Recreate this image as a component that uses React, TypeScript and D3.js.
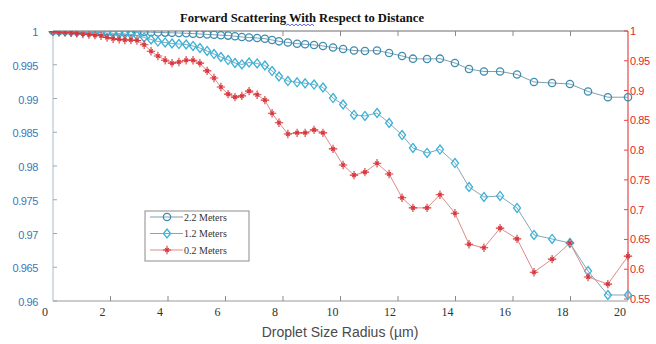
import React from 'react';
import * as d3 from 'd3';

// droplet radius (µm) sample points
const radius = [
  0.0, 0.21, 0.42, 0.63, 0.83, 1.04, 1.25, 1.46, 1.67, 1.88,
  2.09, 2.3, 2.5, 2.71, 2.92, 3.17, 3.41, 3.65, 3.9, 4.14,
  4.38, 4.63, 4.87, 5.11, 5.36, 5.6, 5.84, 6.09, 6.33, 6.57,
  6.82, 7.1, 7.37, 7.62, 7.86, 8.17, 8.49, 8.77, 9.08, 9.39,
  9.74, 10.09, 10.47, 10.85, 11.27, 11.69, 12.14, 12.52, 13.01, 13.46,
  13.98, 14.47, 14.99, 15.55, 16.14, 16.73, 17.36, 17.98, 18.61, 19.3,
  20.0,
];

// 2.2 Meters (left axis)
const meters22 = [
  1.0, 1.0, 1.0, 1.0, 1.0, 1.0, 1.0, 1.0, 0.99997, 0.99996,
  0.99994, 0.99993, 0.99991, 0.9999, 0.99987, 0.99985, 0.99982, 0.99979, 0.99976, 0.99973,
  0.9997, 0.99966, 0.99961, 0.99956, 0.9995, 0.99944, 0.99938, 0.99932, 0.99923, 0.99911,
  0.99904, 0.99896, 0.99886, 0.99867, 0.99847, 0.9983, 0.99812, 0.99803, 0.99793, 0.99778,
  0.99756, 0.99733, 0.99711, 0.99704, 0.99711, 0.99674, 0.9963, 0.9959, 0.99585, 0.9959,
  0.99526, 0.99437, 0.994, 0.994, 0.99356, 0.99244, 0.9923, 0.99215, 0.99104, 0.99019,
  0.99019,
];

// 1.2 Meters (left axis)
const meters12 = [
  1.0, 0.99997, 0.99994, 0.99991, 0.99988, 0.99985, 0.99982, 0.99979, 0.99975, 0.9997,
  0.99966, 0.99961, 0.99956, 0.99948, 0.99933, 0.99904, 0.99874, 0.99844, 0.9983, 0.99815,
  0.99807, 0.998, 0.99778, 0.99748, 0.99704, 0.99659, 0.99615, 0.9957, 0.99526, 0.99504,
  0.99533, 0.99519, 0.99489, 0.99407, 0.99326, 0.99259, 0.9924, 0.99225, 0.99207, 0.99163,
  0.99007, 0.98911, 0.98756, 0.98741, 0.98785, 0.98637, 0.98459, 0.98267, 0.98193, 0.98244,
  0.98044, 0.97689, 0.97541, 0.97556, 0.97378, 0.96978, 0.96919, 0.96859, 0.96444, 0.96089,
  0.96089,
];

// 0.2 Meters (right axis)
const meters02 = [
  0.999, 0.998, 0.998, 0.997, 0.996, 0.995, 0.994, 0.993, 0.992, 0.989,
  0.987, 0.986, 0.985, 0.985, 0.984, 0.977, 0.966, 0.958, 0.951, 0.946,
  0.948, 0.951, 0.951, 0.946, 0.933, 0.921, 0.906, 0.894, 0.889, 0.891,
  0.899, 0.893, 0.884, 0.862, 0.846, 0.827, 0.829, 0.829, 0.834, 0.829,
  0.802, 0.775, 0.758, 0.763, 0.778, 0.76, 0.72, 0.703, 0.703, 0.725,
  0.694, 0.642, 0.636, 0.669, 0.651, 0.595, 0.617, 0.644, 0.587, 0.575,
  0.622,
];

const xTicks = [0, 2, 4, 6, 8, 10, 12, 14, 16, 18, 20];
const leftTicks = [0.96, 0.965, 0.97, 0.975, 0.98, 0.985, 0.99, 0.995, 1];
const rightTicks = [0.55, 0.6, 0.65, 0.7, 0.75, 0.8, 0.85, 0.9, 0.95, 1];
const seriesNames = ['2.2 Meters', '1.2 Meters', '0.2 Meters'];

const W = 656;
const H = 344;
const plot = { left: 53, right: 628, top: 31, bottom: 301 };

// custom wide diamond symbol
const wideDiamond = {
  draw(ctx: any, size: number) {
    const h = Math.sqrt(size) * 0.68;
    const w = h * 0.78;
    ctx.moveTo(0, -h);
    ctx.lineTo(w, 0);
    ctx.lineTo(0, h);
    ctx.lineTo(-w, 0);
    ctx.closePath();
  },
};

// plus with short diagonal spokes, like the reference's red markers
const starPlus = {
  draw(ctx: any, size: number) {
    const r = Math.sqrt(size) * 0.7;
    const d = r * 0.45;
    ctx.moveTo(-r, 0);
    ctx.lineTo(r, 0);
    ctx.moveTo(0, -r);
    ctx.lineTo(0, r);
    ctx.moveTo(-d, -d);
    ctx.lineTo(d, d);
    ctx.moveTo(-d, d);
    ctx.lineTo(d, -d);
  },
};

const fmt = (v: number) => String(+v.toFixed(3));

export default function App() {
  const x = d3.scaleLinear().domain([0, 20]).range([plot.left, plot.right]);
  const yL = d3.scaleLinear().domain([0.96, 1]).range([plot.bottom, plot.top]);
  const yR = d3.scaleLinear().domain([0.55, 1]).range([299, plot.top]);

  const series = [
    {
      name: seriesNames[0], values: meters22, y: yL,
      line: '#7f9fae', stroke: '#3d8db0', sw: 1.3,
      sym: d3.symbol(d3.symbolCircle, 42)(),
    },
    {
      name: seriesNames[1], values: meters12, y: yL,
      line: '#7fa9b8', stroke: '#3cb2d8', sw: 1.3,
      sym: d3.symbol(wideDiamond as any, 44)(),
    },
    {
      name: seriesNames[2], values: meters02, y: yR,
      line: '#e08a8a', stroke: '#d8343a', sw: 1.1,
      sym: d3.symbol(starPlus as any, 36)(),
    },
  ];

  // blue wavy spell-check underline under "With"
  const wave = d3.path();
  wave.moveTo(286, 25.5);
  for (let i = 0; i < 14; i++) wave.lineTo(288 + i * 2, i % 2 === 0 ? 24 : 25.8);

  return (
    <svg
      width={W}
      height={H}
      style={{ position: 'absolute', left: 0, top: 0, background: '#fff' }}
    >
      <defs>
        <clipPath id="plotClip">
          <rect x={0} y={plot.top} width={W} height={H - plot.top} />
        </clipPath>
      </defs>

      {/* title */}
      <text
        x={302}
        y={22}
        textAnchor="middle"
        fontFamily="Liberation Serif, serif"
        fontWeight="bold"
        fontSize={12.5}
        textLength={244}
        lengthAdjust="spacingAndGlyphs"
        fill="#111"
      >
        Forward Scattering With Respect to Distance
      </text>
      <path d={wave.toString()} fill="none" stroke="#3b3bd8" strokeWidth={0.8} />

      {/* frame */}
      <line x1={plot.left} x2={plot.right} y1={plot.top} y2={plot.top} stroke="#b5b5b5" strokeWidth={2} />
      <line x1={plot.left} x2={plot.right} y1={plot.bottom} y2={plot.bottom} stroke="#9a9a9a" strokeWidth={1.2} />
      <line x1={plot.left} x2={plot.left} y1={plot.top} y2={plot.bottom} stroke="#b4c6d4" strokeWidth={1.2} />
      <line x1={plot.right} x2={plot.right} y1={plot.top} y2={299} stroke="#e8454a" strokeWidth={1.2} />

      {/* x ticks */}
      {xTicks.map((t) => (
        <g key={'x' + t}>
          {t > 0 && t < 20 && (
            <>
              <line x1={x(t)} x2={x(t)} y1={plot.bottom} y2={plot.bottom - 5} stroke="#8a8a8a" />
              <line x1={x(t)} x2={x(t)} y1={plot.top} y2={plot.top + 5} stroke="#8a8a8a" />
            </>
          )}
          <text
            x={x(t) - 8}
            y={316}
            textAnchor="middle"
            fontFamily="Liberation Serif, serif"
            fontSize={12}
            fill="#333"
          >
            {t}
          </text>
        </g>
      ))}

      {/* left ticks */}
      {leftTicks.map((t) => (
        <g key={'l' + t}>
          <line x1={plot.left} x2={plot.left + 4} y1={yL(t)} y2={yL(t)} stroke="#9aaab6" />
          <text
            x={38}
            y={yL(t) + 5}
            textAnchor="end"
            fontFamily="Liberation Sans, sans-serif"
            fontSize={11}
            letterSpacing={-0.4}
            fill="#3a78b8"
          >
            {fmt(t)}
          </text>
        </g>
      ))}

      {/* right ticks */}
      {rightTicks.map((t) => (
        <g key={'r' + t}>
          <line x1={plot.right - 4} x2={plot.right} y1={yR(t)} y2={yR(t)} stroke="#e8454a" />
          <text
            x={plot.right + 2}
            y={yR(t) + 4}
            textAnchor="start"
            fontFamily="Liberation Sans, sans-serif"
            fontSize={11}
            letterSpacing={-0.4}
            fill="#e2262e"
          >
            {fmt(t)}
          </text>
        </g>
      ))}

      {/* series */}
      <g clipPath="url(#plotClip)">
        {series.map((s) => {
          const line = d3
            .line<number>()
            .x((_, i) => x(radius[i]))
            .y((v) => s.y(v));
          return (
            <g key={s.name}>
              <path d={line(s.values) || ''} fill="none" stroke={s.line} strokeWidth={1} />
              {s.values.map((v, i) => (
                <path
                  key={i}
                  d={s.sym || ''}
                  transform={`translate(${x(radius[i])},${s.y(v)})`}
                  fill="none"
                  stroke={s.stroke}
                  strokeWidth={s.sw}
                />
              ))}
            </g>
          );
        })}
      </g>

      {/* legend */}
      <g>
        <rect x={145} y={211} width={104} height={50} fill="#fff" stroke="#8c8c8c" strokeWidth={1} />
        {series.map((s, i) => {
          const ly = 217 + i * 16.5;
          return (
            <g key={'lg' + s.name}>
              <line x1={150} x2={183} y1={ly} y2={ly} stroke={s.line} strokeWidth={1} />
              <path
                d={s.sym || ''}
                transform={`translate(167,${ly})`}
                fill="none"
                stroke={s.stroke}
                strokeWidth={s.sw}
              />
              <text
                x={184}
                y={ly + 3.5}
                fontFamily="Liberation Serif, serif"
                fontSize={10}
                fill="#333"
              >
                {s.name}
              </text>
            </g>
          );
        })}
      </g>

      {/* x axis label */}
      <text
        x={340}
        y={337}
        textAnchor="middle"
        fontFamily="Liberation Sans, sans-serif"
        fontSize={14}
        fill="#4a4a4a"
      >
        Droplet Size Radius (µm)
      </text>
    </svg>
  );
}
